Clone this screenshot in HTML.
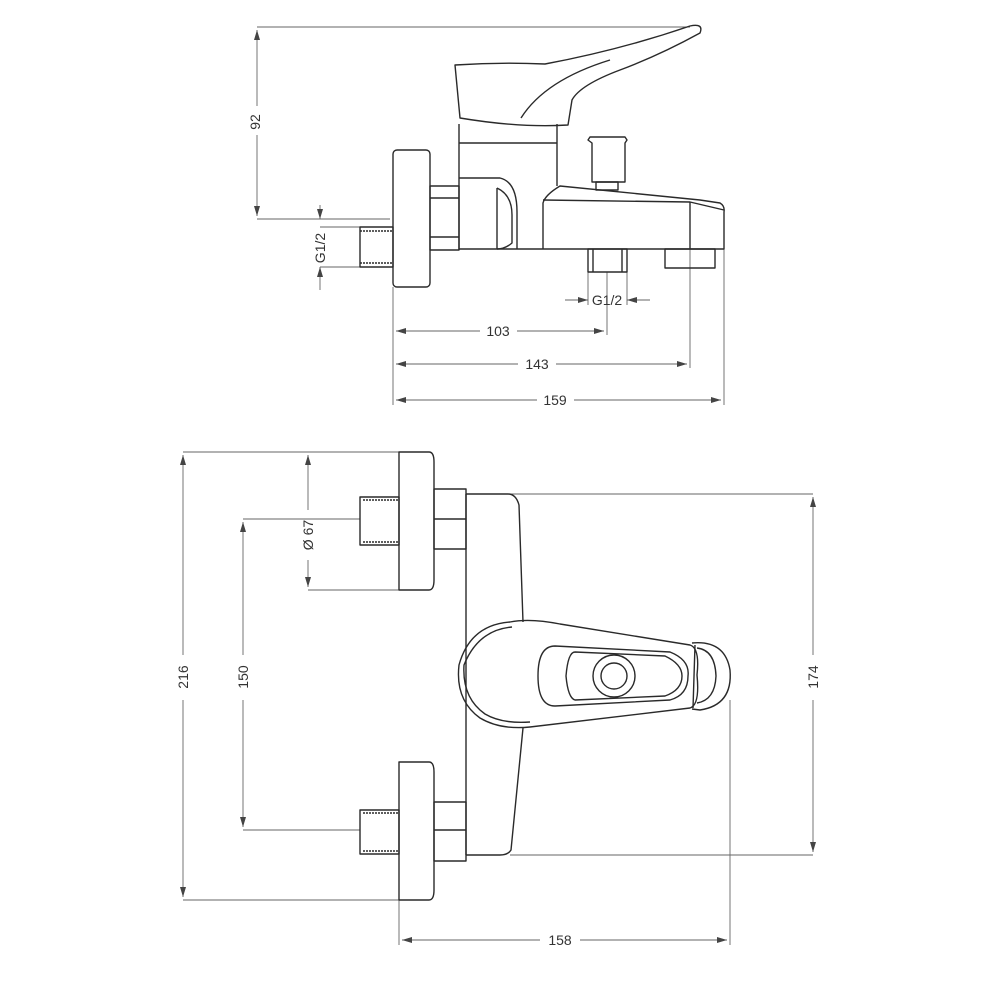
<!DOCTYPE html>
<html><head><meta charset="utf-8"><style>
html,body{margin:0;padding:0;background:#fff}
svg{display:block}
text{font-family:"Liberation Sans",sans-serif;font-size:14px;fill:#333}
</style></head><body>
<svg width="1000" height="1000" viewBox="0 0 1000 1000" xmlns="http://www.w3.org/2000/svg">
<defs>
<marker id="a" viewBox="0 0 10 6" refX="10" refY="3" markerWidth="10" markerHeight="6" orient="auto-start-reverse" markerUnits="userSpaceOnUse"><path d="M0,0 L10,3 L0,6 z" fill="#444"/></marker>
</defs>
<g fill="none" stroke="#666" stroke-width="0.9">
<!-- TOP VIEW dims -->
<line x1="257" y1="27" x2="690" y2="27"/>
<line x1="257" y1="219" x2="390" y2="219"/>
<line x1="257" y1="30" x2="257" y2="106" marker-start="url(#a)"/>
<line x1="257" y1="135" x2="257" y2="216" marker-end="url(#a)"/>
<line x1="320" y1="205" x2="320" y2="219" marker-end="url(#a)"/>
<line x1="320" y1="267" x2="320" y2="290" marker-start="url(#a)"/>
<line x1="320" y1="227" x2="360" y2="227"/>
<line x1="320" y1="267" x2="360" y2="267"/>
<line x1="565" y1="300" x2="588" y2="300" marker-end="url(#a)"/>
<line x1="627" y1="300" x2="650" y2="300" marker-start="url(#a)"/>
<line x1="588" y1="272" x2="588" y2="305"/>
<line x1="627" y1="272" x2="627" y2="305"/>
<line x1="393" y1="287" x2="393" y2="405"/>
<line x1="607" y1="272" x2="607" y2="335"/>
<line x1="690" y1="249" x2="690" y2="368"/>
<line x1="724" y1="249" x2="724" y2="405"/>
<line x1="396" y1="331" x2="480" y2="331" marker-start="url(#a)"/>
<line x1="517" y1="331" x2="604" y2="331" marker-end="url(#a)"/>
<line x1="396" y1="364" x2="518" y2="364" marker-start="url(#a)"/>
<line x1="556" y1="364" x2="687" y2="364" marker-end="url(#a)"/>
<line x1="396" y1="400" x2="537" y2="400" marker-start="url(#a)"/>
<line x1="574" y1="400" x2="721" y2="400" marker-end="url(#a)"/>
<!-- BOTTOM VIEW dims -->
<line x1="183" y1="452" x2="400" y2="452"/>
<line x1="183" y1="900" x2="400" y2="900"/>
<line x1="183" y1="455" x2="183" y2="655" marker-start="url(#a)"/>
<line x1="183" y1="700" x2="183" y2="897" marker-end="url(#a)"/>
<line x1="308" y1="455" x2="308" y2="510" marker-start="url(#a)"/>
<line x1="308" y1="560" x2="308" y2="587" marker-end="url(#a)"/>
<line x1="308" y1="590" x2="399" y2="590"/>
<line x1="243" y1="519" x2="360" y2="519"/>
<line x1="243" y1="830" x2="360" y2="830"/>
<line x1="243" y1="522" x2="243" y2="655" marker-start="url(#a)"/>
<line x1="243" y1="700" x2="243" y2="827" marker-end="url(#a)"/>
<line x1="510" y1="494" x2="813" y2="494"/>
<line x1="510" y1="855" x2="813" y2="855"/>
<line x1="813" y1="497" x2="813" y2="655" marker-start="url(#a)"/>
<line x1="813" y1="700" x2="813" y2="852" marker-end="url(#a)"/>
<line x1="399" y1="900" x2="399" y2="945"/>
<line x1="730" y1="700" x2="730" y2="945"/>
<line x1="402" y1="940" x2="540" y2="940" marker-start="url(#a)"/>
<line x1="580" y1="940" x2="727" y2="940" marker-end="url(#a)"/>
</g>
<g fill="none" stroke="#2a2a2a" stroke-width="1.4" stroke-linejoin="round">
<!-- TOP VIEW -->
<path d="M455,65 Q500,62 545,64 Q620,50 690,26 Q704,23 700,33 Q660,55 620,70 Q580,85 572,100 L568,125 Q520,128 460,118 Z"/>
<path d="M521,118 Q545,80 610,60"/>
<path d="M459,124 L459,250 M557,124 L557,186"/>
<line x1="459" y1="143" x2="557" y2="143"/>
<rect x="393" y="150" width="37" height="137" rx="4"/>
<rect x="430" y="186" width="29" height="64"/>
<line x1="430" y1="198" x2="459" y2="198"/>
<line x1="430" y1="237" x2="459" y2="237"/>
<path d="M459,178 L500,178 Q517,182 517,212 L517,249"/>
<path d="M497,188 Q512,195 512,215 L512,243 Q505,249 497,249"/>
<line x1="497" y1="188" x2="497" y2="249"/>
<rect x="360" y="227" width="33" height="40"/>
<line x1="360" y1="231" x2="393" y2="231" stroke-dasharray="2,1"/>
<line x1="360" y1="263" x2="393" y2="263" stroke-dasharray="2,1"/>
<path d="M543,249 L543,203 Q545,195 560,186 L700,200 L720,203 Q725,206 724,212 L724,249 L459,249"/>
<path d="M543,200 L690,202 L724,210"/>
<line x1="690" y1="202" x2="690" y2="249"/>
<path d="M588,140 L590,137 L625,137 L627,140 L625,143 L625,182 L592,182 L592,143 Z"/>
<rect x="596" y="182" width="22" height="8"/>
<rect x="588" y="249" width="39" height="23"/>
<line x1="593" y1="249" x2="593" y2="272"/>
<line x1="622" y1="249" x2="622" y2="272"/>
<rect x="665" y="249" width="50" height="19"/>
<!-- BOTTOM VIEW -->
<path d="M399,452 L429,452 Q434,452 434,462 L434,580 Q434,590 429,590 L399,590 Z"/>
<path d="M399,762 L429,762 Q434,762 434,772 L434,890 Q434,900 429,900 L399,900 Z"/>
<rect x="360" y="497" width="39" height="48"/>
<rect x="360" y="810" width="39" height="44"/>
<line x1="363" y1="500" x2="399" y2="500" stroke-dasharray="2,1"/>
<line x1="363" y1="542" x2="399" y2="542" stroke-dasharray="2,1"/>
<line x1="363" y1="813" x2="399" y2="813" stroke-dasharray="2,1"/>
<line x1="363" y1="851" x2="399" y2="851" stroke-dasharray="2,1"/>
<rect x="434" y="489" width="32" height="60"/>
<line x1="434" y1="519" x2="466" y2="519"/>
<rect x="434" y="802" width="32" height="59"/>
<line x1="434" y1="830" x2="466" y2="830"/>
<path d="M466,494 L508,494 Q516,494 519,505 L523,622"/>
<path d="M523,728 L511,850 Q508,855 500,855 L466,855"/>
<line x1="466" y1="494" x2="466" y2="855"/>
<path d="M510,622 Q470,625 459,665 Q455,700 480,718 Q500,730 530,727 L690,708 Q700,705 697,675 Q700,648 690,645 L560,624 Q530,618 510,622 Z"/>
<path d="M512,627 Q478,630 464,665 Q462,698 485,714 Q502,724 530,722"/>
<path d="M692,643 Q725,640 730,670 Q733,705 700,710 L692,709"/>
<path d="M695,645 L693,708 M697,648 Q715,650 716,676 Q715,700 697,703"/>
<path d="M555,646 L670,652 Q690,660 688,676 Q688,695 670,700 L555,706 Q538,706 538,676 Q538,646 555,646 Z"/>
<path d="M575,652 L665,656 Q682,664 682,676 Q682,690 665,696 L575,700 Q568,698 566,676 Q568,652 575,652 Z"/>
<circle cx="614" cy="676" r="21"/>
<circle cx="614" cy="676" r="13"/>
</g>
<g>
<text x="262" y="122" text-anchor="middle" transform="rotate(-90 262 122) translate(0 -2)" style="font-size:14px">92</text>
<text x="325" y="248" text-anchor="middle" transform="rotate(-90 325 248)" style="font-size:14px">G1/2</text>
<text x="607" y="305" text-anchor="middle">G1/2</text>
<text x="498" y="336" text-anchor="middle">103</text>
<text x="537" y="369" text-anchor="middle">143</text>
<text x="555" y="405" text-anchor="middle">159</text>
<text x="188" y="677" text-anchor="middle" transform="rotate(-90 188 677)">216</text>
<text x="248" y="677" text-anchor="middle" transform="rotate(-90 248 677)">150</text>
<text x="313" y="535" text-anchor="middle" transform="rotate(-90 313 535)">Ø 67</text>
<text x="818" y="677" text-anchor="middle" transform="rotate(-90 818 677)">174</text>
<text x="560" y="945" text-anchor="middle">158</text>
</g>
</svg>
</body></html>
